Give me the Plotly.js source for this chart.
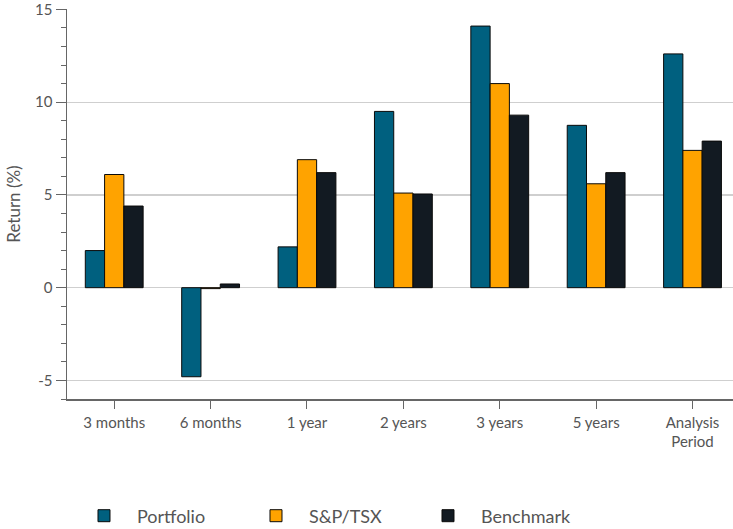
<!DOCTYPE html>
<html>
<head>
<meta charset="utf-8">
<script src="https://cdn.plot.ly/plotly-3.0.1.min.js"></script>
<style>html,body{margin:0;padding:0;background:#fff;}#chart{width:733px;height:529px;}</style>
</head>
<body>
<div id="chart"></div>
<script>
const categories = ["3 months", "6 months", "1 year", "2 years", "3 years", "5 years", "Analysis<br>Period"];
const portfolio = [2.0, -4.8, 2.2, 9.5, 14.1, 8.75, 12.6];
const sptsx = [6.1, -0.05, 6.9, 5.1, 11.0, 5.6, 7.4];
const benchmark = [4.4, 0.2, 6.2, 5.05, 9.3, 6.2, 7.9];
const seriesNames = ["Portfolio", "S&P/TSX", "Benchmark"];
const seriesColors = ["#00607f", "#ffa300", "#121a22"];
const yTickValues = [-5, 0, 5, 10, 15];
const yTickLabels = ["-5", "0", "5", "10", "15"];

const values = [portfolio, sptsx, benchmark];
const traces = values.map((v, i) => ({
  type: "bar",
  name: seriesNames[i],
  x: categories,
  y: v,
  marker: {color: seriesColors[i], line: {color: "#0a0a0a", width: 1}},
  hoverinfo: "x+y+name"
}));

const font = "Lato, 'Open Sans', sans-serif";
const layout = {
  width: 733, height: 529,
  margin: {l: 67, r: 0, t: 9, b: 130, autoexpand: false},
  paper_bgcolor: "#fff", plot_bgcolor: "#fff",
  barmode: "group", bargap: 0.4, bargroupgap: 0,
  font: {family: font, color: "#555", size: 14},
  xaxis: {
    type: "category",
    range: [-0.49, 6.42],
    automargin: false,
    showline: true, linecolor: "#666", linewidth: 1.5,
    ticks: "outside", ticklen: 8, tickcolor: "#666", tickwidth: 1,
    ticklabelstandoff: 1,
    showgrid: false, zeroline: false,
    tickfont: {size: 15, color: "#555"}
  },
  yaxis: {
    range: [-6, 15.02],
    automargin: false,
    tickmode: "array", tickvals: yTickValues, ticktext: yTickLabels,
    ticklabeloverflow: "allow",
    showline: true, linecolor: "#666", linewidth: 1.5,
    ticks: "outside", ticklen: 10, tickcolor: "#666", tickwidth: 1,
    minor: {dtick: 1, tick0: 0, ticks: "outside", ticklen: 5, tickcolor: "#666", showgrid: false},
    showgrid: true, gridcolor: "#cfcfcf", gridwidth: 1.2,
    zeroline: true, zerolinecolor: "#cfcfcf", zerolinewidth: 1.2,
    tickfont: {size: 15, color: "#555"},
    title: {text: "Return (%)", font: {size: 17, color: "#555"}, standoff: 10}
  },
  legend: {
    orientation: "h",
    x: 0.006, xanchor: "left",
    y: -0.30, yanchor: "middle",
    font: {size: 18, color: "#555"},
    itemwidth: 56,
    entrywidth: 101, entrywidthmode: "pixels",
    traceorder: "normal"
  },
  showlegend: true
};

Plotly.newPlot("chart", traces, layout, {displayModeBar: false, staticPlot: true});
</script>
</body>
</html>
